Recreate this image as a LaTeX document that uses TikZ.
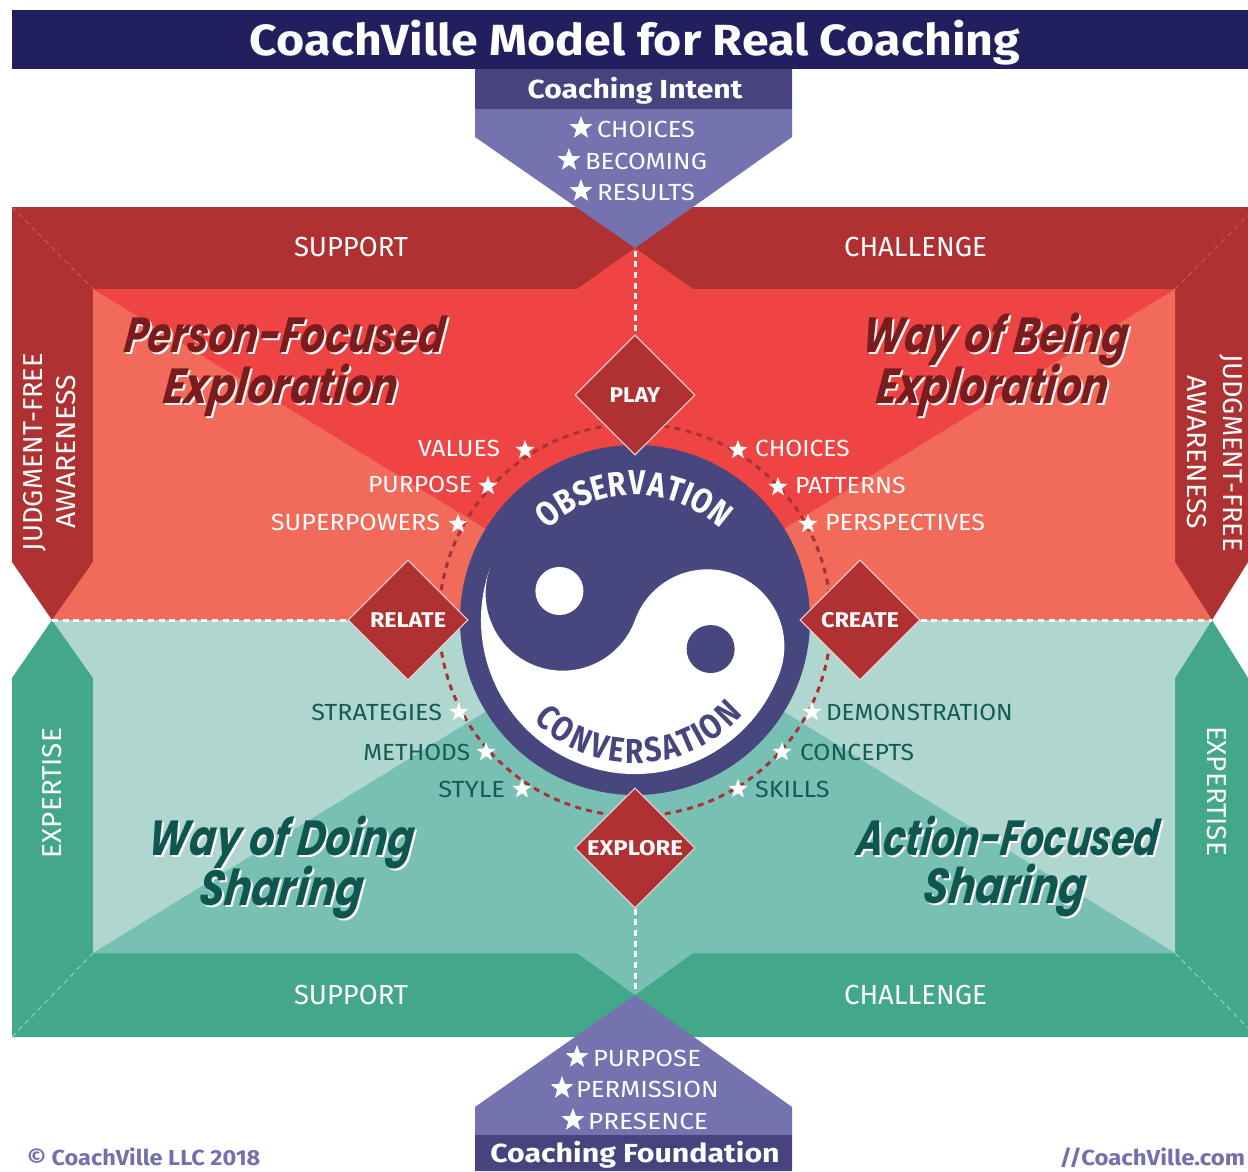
\documentclass[tikz,border=0pt]{standalone}
\usepackage{fontspec}
\usepackage{graphicx}
\setmainfont{Fira Sans}
\newfontfamily\arcf[FakeStretch=0.85]{Fira Sans}
\newfontfamily\scrf{Poppins}
\usetikzlibrary{shapes.geometric}

\definecolor{titlenavy}{HTML}{221F5E}
\definecolor{intentdark}{HTML}{46437F}
\definecolor{intentlight}{HTML}{7472AF}
\definecolor{bandred}{HTML}{AF3131}
\definecolor{brightred}{HTML}{EF4444}
\definecolor{salmon}{HTML}{F26B5A}
\definecolor{bandgreen}{HTML}{43A78A}
\definecolor{mint}{HTML}{AFD7CF}
\definecolor{tealmid}{HTML}{79C0B4}
\definecolor{darkteal}{HTML}{135B55}
\definecolor{scriptred}{HTML}{7A1C1E}
\definecolor{scriptteal}{HTML}{0F5650}
\definecolor{circnavy}{HTML}{48467F}
\definecolor{diamred}{HTML}{B03131}
\definecolor{dotred}{HTML}{A83234}
\definecolor{footpurple}{HTML}{7470AE}
\definecolor{miterred}{HTML}{D9504A}
\definecolor{mitergreen}{HTML}{8FD0BC}

\newcommand\fw[2]{\resizebox{#1}{\height}{#2}}

\begin{document}
\begin{tikzpicture}[x=0.75pt,y=-0.75pt,
  txt/.style={inner sep=0pt, outer sep=0pt, anchor=base},
  lbl/.style={txt, font=\fontsize{17.5}{19}\selectfont},
  wlbl/.style={lbl, text=white},
  tlbl/.style={lbl, text=darkteal},
  bandlbl/.style={txt, text=white, font=\fontsize{20.7}{22}\selectfont},
  sidelbl/.style={inner sep=0pt, text=white, font=\fontsize{20.5}{22}\selectfont},
  hdr/.style={txt, text=white, font=\bfseries\fontsize{19.6}{21}\selectfont},
  foot/.style={txt, text=footpurple, font=\bfseries\fontsize{16.3}{18}\selectfont},
  starw/.style={star, star points=5, star point ratio=2.4, fill=white, draw=none, inner sep=0pt, minimum size=15pt},
  starb/.style={starw, minimum size=18pt},
  diam/.style={diamond, aspect=1, minimum size=90pt, fill=diamred, draw=white!80!diamred, line width=0.8pt, inner sep=0pt, text=white, font=\bfseries\fontsize{16}{18}\selectfont},
  wdots/.style={white, line width=2.25pt, dash pattern=on 4.5pt off 3.5pt},
  arcl/.style={inner sep=0pt, anchor=center, font=\arcf\bfseries\fontsize{26}{28}\selectfont},
  scr/.style={txt, xslant=0.12, font=\scrf\bfseries\itshape\fontsize{37}{40}\selectfont},
  scrshadow/.style={scr, text=white!90!pink}
]
\useasboundingbox (0,0) rectangle (1248,1171);
\fill[white] (0,0) rectangle (1248,1171);

% upper (red) block
\fill[bandred] (12,207) -- (1248,207) -- (1248,562) -- (1212,620) -- (52,620) -- (12,562) -- cycle;
\fill[salmon] (52,620) -- (93,562) -- (93,289) -- (1175,289) -- (1175,562) -- (1212,620) -- cycle;
\fill[brightred] (93,289) -- (577,289) -- (635,248) -- (693,289) -- (1175,289) -- (635,620) -- cycle;

% lower (green) block
\fill[bandgreen] (12,678) -- (52,620) -- (1212,620) -- (1248,678) -- (1248,1037) -- (12,1037) -- cycle;
\fill[mint] (52,620) -- (1212,620) -- (1175,678) -- (1175,953) -- (93,953) -- (93,678) -- cycle;
\fill[tealmid] (93,953) -- (577,953) -- (635,995) -- (693,953) -- (1175,953) -- (635,620) -- cycle;

% miter lines
\draw[miterred, line width=0.8pt, dash pattern=on 4pt off 3pt] (12,207) -- (93,289);
\draw[miterred, line width=0.8pt, dash pattern=on 4pt off 3pt] (1175,289) -- (1248,215);
\draw[mitergreen, line width=0.8pt, dash pattern=on 4pt off 3pt] (12,1037) -- (93,953);
\draw[mitergreen, line width=0.8pt, dash pattern=on 4pt off 3pt] (1175,953) -- (1248,1028);

% intent / foundation pentagons
\fill[intentlight] (475,69) -- (792,69) -- (792,137) -- (635,248) -- (475,137) -- cycle;
\fill[intentdark] (475,69) rectangle (792,109);
\fill[intentlight] (475,1171) -- (792,1171) -- (792,1107) -- (635,995) -- (475,1107) -- cycle;
\fill[intentdark] (475,1135) rectangle (792,1171);

% title bar
\fill[titlenavy] (12,10) rectangle (1248,69);
\node[txt, text=white, font=\bfseries\fontsize{32.7}{34}\selectfont] (title) at (635,55) {\fw{577.5pt}{CoachVille Model for Real Coaching}};

\coordinate (intentTip) at (635,248);
\coordinate (foundTip) at (635,995);
\coordinate (leftPt) at (52,620);
\coordinate (rightPt) at (1212,620);
\coordinate (c) at (635,620);

% dotted ring
\draw[dotred, line width=2.25pt, dash pattern=on 4.5pt off 4pt] (c) circle[radius=196];

% central circle and yin-yang
\fill[circnavy] (c) circle[radius=175];
\fill[white] (c) ++(200:154) arc[start angle=200, end angle=20, radius=154]
  arc[start angle=20, end angle=-160, radius=77]
  arc[start angle=20, end angle=200, radius=77] -- cycle;
\fill[white] (c) ++(201:81) circle[radius=24];
\fill[circnavy] (c) ++(21:81) circle[radius=24];

% curved words
\foreach \ch/\ang [count=\i] in {O/230.6,B/239.5,S/247.4,E/254.7,R/262.6,V/270.9,A/279.3,T/287.2,I/292.8,O/299.4,N/308.7}
  \path (c) ++(\ang:137) node[arcl, text=white, rotate={270-\ang}] (obs\i) {\ch};
\foreach \ch/\ang [count=\i] in {C/132,O/123.4,N/114.2,V/105.5,E/97.8,R/90,S/82.2,A/74.3,T/66.5,I/60.9,O/54.4,N/45.1}
  \path (c) ++(\ang:131) node[arcl, text=circnavy, rotate={90-\ang}] (conv\i) {\ch};

% diamonds
\node[diam] (play) at (635,395) {\fw{38pt}{PLAY}};
\node[diam] (relate) at (408,620) {\fw{57pt}{RELATE}};
\node[diam] (create) at (860,620) {\fw{58.5pt}{CREATE}};
\node[diam] (explore) at (635,848) {\fw{72pt}{EXPLORE}};

% white dotted connectors
\draw[wdots, shorten <=2pt] (intentTip) -- (play.north);
\draw[wdots, shorten >=2pt] (explore.south) -- (foundTip);
\draw[wdots] (leftPt) -- (relate.west);
\draw[wdots] (create.east) -- (rightPt);

% header texts
\node[hdr] (intentHdr) at (635,98) {\fw{161pt}{Coaching Intent}};
\node[hdr] (foundHdr) at (635,1162) {\fw{217pt}{Coaching Foundation}};

% intent items
\node[starb] (is1) at (581,128) {};
\node[wlbl, anchor=base west] (it1) at (597,137) {\fw{73.5pt}{CHOICES}};
\node[starb] (is2) at (569,160) {};
\node[wlbl, anchor=base west] (it2) at (585,169) {\fw{91.5pt}{BECOMING}};
\node[starb] (is3) at (581,191) {};
\node[wlbl, anchor=base west] (it3) at (597,200) {\fw{73.5pt}{RESULTS}};

% foundation items
\node[starb] (fs1) at (577,1057) {};
\node[wlbl, anchor=base west] (ft1) at (593,1066) {\fw{81pt}{PURPOSE}};
\node[starb] (fs2) at (562,1088) {};
\node[wlbl, anchor=base west] (ft2) at (576,1097) {\fw{107pt}{PERMISSION}};
\node[starb] (fs3) at (573,1120) {};
\node[wlbl, anchor=base west] (ft3) at (588,1129) {\fw{90pt}{PRESENCE}};

% band labels
\node[bandlbl] (sup1) at (351,256.5) {\fw{85.5pt}{SUPPORT}};
\node[bandlbl] (cha1) at (915.5,256.5) {\fw{107pt}{CHALLENGE}};
\node[bandlbl] (sup2) at (351,1004.5) {\fw{85.5pt}{SUPPORT}};
\node[bandlbl] (cha2) at (915.5,1004.5) {\fw{107pt}{CHALLENGE}};

% side labels
\node[sidelbl, rotate=90] (jfl1) at (35,452) {\fw{148.5pt}{JUDGMENT-FREE}};
\node[sidelbl, rotate=90] (jfl2) at (66,452) {\fw{115pt}{AWARENESS}};
\node[sidelbl, rotate=-90] (jfr1) at (1231,453) {\fw{148.5pt}{JUDGMENT-FREE}};
\node[sidelbl, rotate=-90] (jfr2) at (1197,452) {\fw{115pt}{AWARENESS}};
\node[sidelbl, rotate=90] (exl) at (52,793) {\fw{97.5pt}{EXPERTISE}};
\node[sidelbl, rotate=-90] (exr) at (1217,791) {\fw{97.5pt}{EXPERTISE}};

% labels around circle: upper left
\node[starw] (s1) at (525,450) {};
\node[wlbl, anchor=base east] (l1) at (500,456) {\fw{61.5pt}{VALUES}};
\node[starw] (s2) at (488,486) {};
\node[wlbl, anchor=base east] (l2) at (472,492) {\fw{78pt}{PURPOSE}};
\node[starw] (s3) at (458,524) {};
\node[wlbl, anchor=base east] (l3) at (440,530) {\fw{126.8pt}{SUPERPOWERS}};
% upper right
\node[starw] (s4) at (738,450) {};
\node[wlbl, anchor=base west] (l4) at (755,456) {\fw{71pt}{CHOICES}};
\node[starw] (s5) at (778,487) {};
\node[wlbl, anchor=base west] (l5) at (795,493) {\fw{83pt}{PATTERNS}};
\node[starw] (s6) at (808,524) {};
\node[wlbl, anchor=base west] (l6) at (825,530) {\fw{120pt}{PERSPECTIVES}};
% lower left
\node[starw] (s7) at (459,712) {};
\node[tlbl, anchor=base east] (l7) at (442,720) {\fw{98pt}{STRATEGIES}};
\node[starw] (s8) at (486,752) {};
\node[tlbl, anchor=base east] (l8) at (470,760) {\fw{80pt}{METHODS}};
\node[starw] (s9) at (522,789) {};
\node[tlbl, anchor=base east] (l9) at (505,797) {\fw{50pt}{STYLE}};
% lower right
\node[starw] (s10) at (812,712) {};
\node[tlbl, anchor=base west] (l10) at (826,720) {\fw{140pt}{DEMONSTRATION}};
\node[starw] (s11) at (782,752) {};
\node[tlbl, anchor=base west] (l11) at (800,760) {\fw{85.5pt}{CONCEPTS}};
\node[starw] (s12) at (738,789) {};
\node[tlbl, anchor=base west] (l12) at (755,797) {\fw{56pt}{SKILLS}};

% script titles
\node[scrshadow] (pfs) at (285,354) {\fw{240pt}{Person-Focused}};
\node[scr, text=scriptred] (pf) at (283,352) {\fw{240pt}{Person-Focused}};
\node[scrshadow] (exls) at (281.5,405) {\fw{176pt}{Exploration}};
\node[scr, text=scriptred] (exlt) at (279.5,403) {\fw{176pt}{Exploration}};
\node[scrshadow] (wbs) at (996.5,354) {\fw{199pt}{Way of Being}};
\node[scr, text=scriptred] (wb) at (994.5,352) {\fw{199pt}{Way of Being}};
\node[scrshadow] (exrs) at (993,405) {\fw{174pt}{Exploration}};
\node[scr, text=scriptred] (exrt) at (991,403) {\fw{174pt}{Exploration}};
\node[scrshadow] (wds) at (282.5,857) {\fw{199pt}{Way of Doing}};
\node[scr, text=scriptteal] (wd) at (280.5,855) {\fw{199pt}{Way of Doing}};
\node[scrshadow] (shls) at (282,907) {\fw{123pt}{Sharing}};
\node[scr, text=scriptteal] (shl) at (280,905) {\fw{123pt}{Sharing}};
\node[scrshadow] (afs) at (1008.5,857) {\fw{227pt}{Action-Focused}};
\node[scr, text=scriptteal] (af) at (1006.5,855) {\fw{227pt}{Action-Focused}};
\node[scrshadow] (shrs) at (1005.5,905) {\fw{122pt}{Sharing}};
\node[scr, text=scriptteal] (shr) at (1003.5,903) {\fw{122pt}{Sharing}};

% footer
\node[foot, anchor=base west] (copy) at (27,1165) {\fw{175pt}{© CoachVille LLC 2018}};
\node[foot, anchor=base east] (web) at (1245,1165) {\fw{139pt}{//CoachVille.com}};
\end{tikzpicture}
\end{document}
